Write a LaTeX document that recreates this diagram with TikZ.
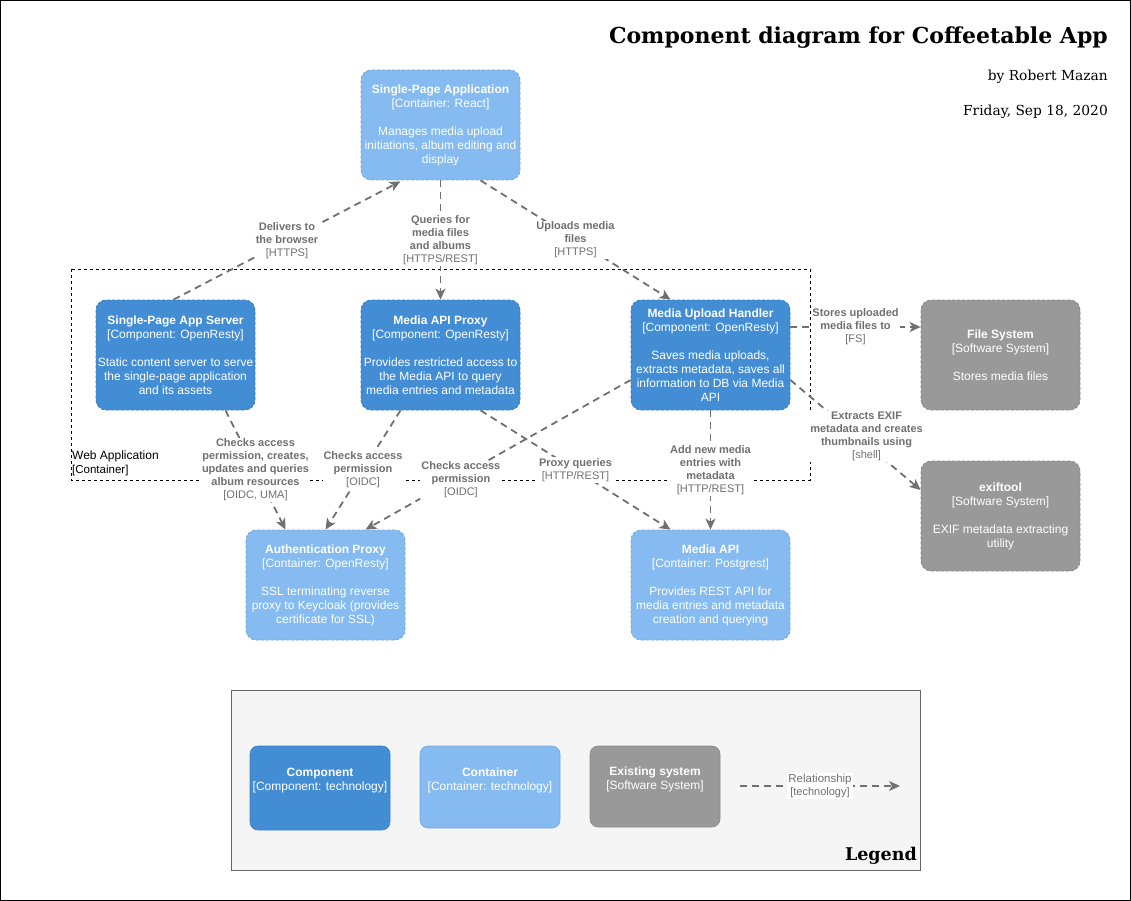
\documentclass[tikz,border=0pt]{standalone}
\usepackage{fontspec}
\setmainfont{Liberation Sans}
\newfontfamily\serifx{DejaVu Serif}
\usetikzlibrary{arrows.meta,calc}
\definecolor{compfill}{HTML}{438DD5}
\definecolor{compline}{HTML}{3C7FC0}
\definecolor{contfill}{HTML}{85BBF0}
\definecolor{contline}{HTML}{78A8D8}
\definecolor{sysfill}{HTML}{999999}
\definecolor{sysline}{HTML}{8A8A8A}
\definecolor{relgray}{HTML}{707070}
\definecolor{legfill}{HTML}{F5F5F5}
\definecolor{legline}{HTML}{666666}
\tikzset{
  boxbase/.style={rounded corners=10pt, minimum width=159pt, minimum height=110pt,
    align=center, text=white, font=\fontsize{12}{14}\selectfont, inner sep=0pt,
    line width=0.8pt, dash pattern=on 3pt off 2pt},
  compbox/.style={boxbase, fill=compfill, draw=compline},
  contbox/.style={boxbase, fill=contfill, draw=contline},
  sysbox/.style={boxbase, fill=sysfill, draw=sysline},
  legbox/.style={rounded corners=8pt, draw, line width=0.6pt},
  legtext/.style={align=center, text=white, font=\fontsize{12}{14}\selectfont, inner sep=0pt},
  rel/.style={draw=relgray, line width=1.8pt, dash pattern=on 7pt off 5pt,
    -{Stealth[length=11pt,width=10pt,inset=3pt]}},
  lbl/.style={fill=white, text=relgray, align=center, inner sep=1pt,
    font=\fontsize{11}{13}\selectfont},
  ttl/.style={anchor=east, inner sep=0pt},
}
\begin{document}
\begin{tikzpicture}[x=1pt,y=-1pt]
\useasboundingbox (0,0) rectangle (1131,901);
\draw[line width=1pt] (0.5,0.5) rectangle (1130.5,900.5);

% titles
\node[ttl, font=\serifx\bfseries\fontsize{22}{26}\selectfont] (title) at (1108,38) {Component diagram for Coffeetable App};
\node[ttl, font=\serifx\fontsize{13.8}{16}\selectfont] (author) at (1108,77) {by Robert Mazan};
\node[ttl, font=\serifx\fontsize{13.8}{16}\selectfont] (date) at (1108,112) {Friday, Sep 18, 2020};

% boundary
\draw[line width=0.8pt, dash pattern=on 3pt off 3pt] (71,269) rectangle (810,480);
\node[anchor=west, inner sep=0pt, font=\fontsize{12}{14}\selectfont, align=left] (wa) at (72,463)
  {Web Application\\{\fontsize{11.5}{14}\selectfont[Container]}};

% legend
\draw[fill=legfill, draw=legline, line width=0.8pt] (231,690) rectangle (920,870);
\node[anchor=south east, inner sep=0pt, font=\serifx\bfseries\fontsize{17.5}{20}\selectfont] (legend) at (917,865) {Legend};

% nodes
\node[contbox] (spa) at (440.5,125) {\textbf{Single-Page Application}\\{}[Container: React]\\[14pt]Manages media upload\\initiations, album editing and\\display};
\node[compbox] (spas) at (175.5,355) {\textbf{Single-Page App Server}\\{}[Component: OpenResty]\\[14pt]Static content server to serve\\the single-page application\\and its assets};
\node[compbox] (map) at (440.5,355) {\textbf{Media API Proxy}\\{}[Component: OpenResty]\\[14pt]Provides restricted access to\\the Media API to query\\media entries and metadata};
\node[compbox] (muh) at (710.5,355) {\textbf{Media Upload Handler}\\{}[Component: OpenResty]\\[14pt]Saves media uploads,\\extracts metadata, saves all\\information to DB via Media\\API};
\node[sysbox] (fs) at (1000.5,355) {\textbf{File System}\\{}[Software System]\\[14pt]Stores media files};
\node[sysbox] (exif) at (1000.5,516) {\textbf{exiftool}\\{}[Software System]\\[14pt]EXIF metadata extracting\\utility};
\node[contbox] (ap) at (325.5,585) {\textbf{Authentication Proxy}\\{}[Container: OpenResty]\\[14pt]SSL terminating reverse\\proxy to Keycloak (provides\\certificate for SSL)};
\node[contbox] (ma) at (710.5,585) {\textbf{Media API}\\{}[Container: Postgrest]\\[14pt]Provides REST API for\\media entries and metadata\\creation and querying};

% connectors
\draw[rel] ($(spas.north)+(-2,0)$) -- ($(spa.south)+(-40,1)$)
  node[lbl, pos=0.5] (l1) {\textbf{Delivers to}\\\textbf{the browser}\\{}[HTTPS]};
\draw[rel] (spa.south) -- (map.north)
  node[lbl, pos=0.5] (l2) {\textbf{Queries for}\\\textbf{media files}\\\textbf{and albums}\\{}[HTTPS/REST]};
\draw[rel] ($(spa.south)+(40,0)$) -- ($(muh.north)+(-40,0)$)
  node[lbl, pos=0.5] (l3) {\textbf{Uploads media}\\\textbf{files}\\{}[HTTPS]};
\draw[rel] ($(muh.east)+(0,-28)$) -- ($(fs.west)+(0,-28)$)
  node[lbl, pos=0.5] (l4) {\textbf{Stores uploaded}\\\textbf{media files to}\\{}[FS]};
\draw[rel] ($(muh.east)+(0,25)$) -- ($(exif.west)+(0,-26)$)
  node[lbl, pos=0.585, yshift=8pt] (l5) {\textbf{Extracts EXIF}\\\textbf{metadata and creates}\\\textbf{thumbnails using}\\{}[shell]};
\draw[rel] ($(spas.south)+(50,0)$) -- ($(ap.north)+(-40,0)$)
  node[lbl, pos=0.5] (l6) {\textbf{Checks access}\\\textbf{permission, creates,}\\\textbf{updates and queries}\\\textbf{album resources}\\{}[OIDC, UMA]};
\draw[rel] ($(map.south)+(-40,0)$) -- (ap.north)
  node[lbl, pos=0.5] (l7) {\textbf{Checks access}\\\textbf{permission}\\{}[OIDC]};
\draw[rel] ($(muh.west)+(0,25)$) -- ($(ap.north)+(40,0)$)
  node[lbl, pos=0.64, yshift=-4pt] (l8) {\textbf{Checks access}\\\textbf{permission}\\{}[OIDC]};
\draw[rel] ($(map.south)+(40,0)$) -- ($(ma.north)+(-40,0)$)
  node[lbl, pos=0.5] (l9) {\textbf{Proxy queries}\\{}[HTTP/REST]};
\draw[rel] (muh.south) -- (ma.north)
  node[lbl, pos=0.5] (l10) {\textbf{Add new media}\\\textbf{entries with}\\\textbf{metadata}\\{}[HTTP/REST]};

% legend items
\node[legbox, fill=compfill, draw=compline, minimum width=140pt, minimum height=84pt] (lgc) at (320,788) {};
\node[legtext] (lgct) at ($(lgc.center)+(0,-7)$) {\textbf{Component}\\{}[Component: technology]};
\node[legbox, fill=contfill, draw=contline, minimum width=140pt, minimum height=82pt] (lgk) at (490,787) {};
\node[legtext] (lgkt) at ($(lgk.center)+(0,-7)$) {\textbf{Container}\\{}[Container: technology]};
\node[legbox, fill=sysfill, draw=sysline, minimum width=130pt, minimum height=81pt] (lgs) at (655,786.5) {};
\node[legtext] (lgst) at ($(lgs.center)+(0,-7)$) {\textbf{Existing system}\\{}[Software System]};
\coordinate (lra) at (740,786);
\coordinate (lrb) at (900,786);
\draw[rel, line width=1.5pt] (lra) -- (lrb)
  node[lbl, pos=0.5, font=\fontsize{11.5}{13}\selectfont] (lrl) {Relationship\\{\fontsize{11}{12}\selectfont[technology]}};
\end{tikzpicture}
\end{document}
